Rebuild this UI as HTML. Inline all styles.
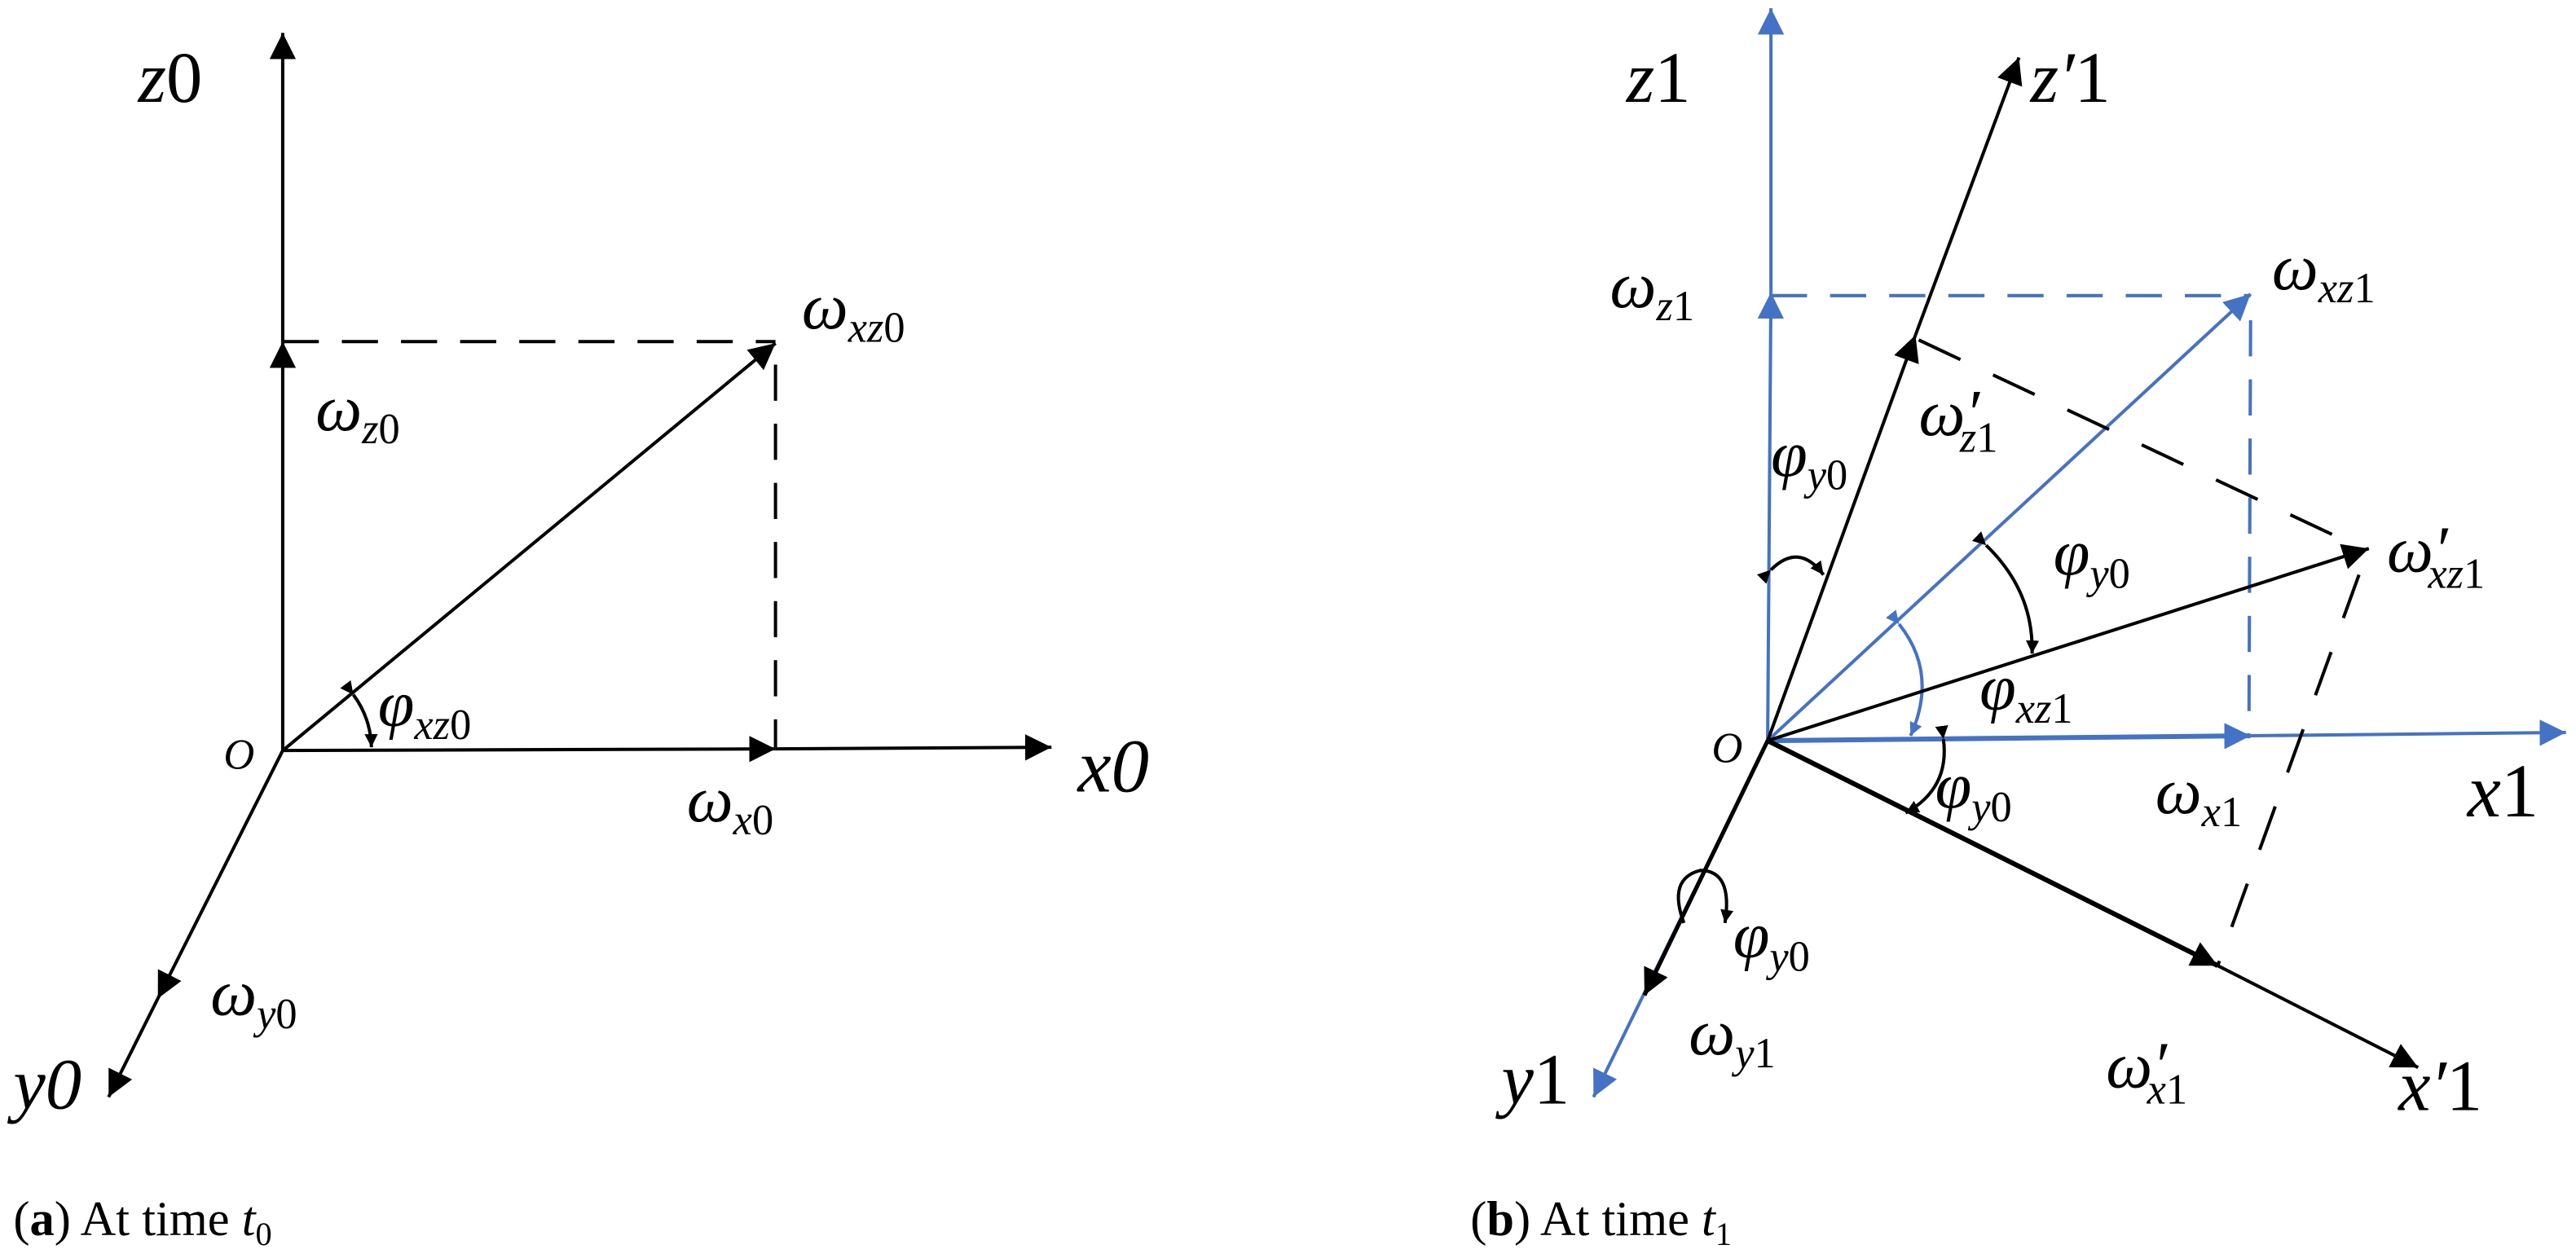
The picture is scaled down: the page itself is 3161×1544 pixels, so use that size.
<!DOCTYPE html>
<html><head><meta charset="utf-8"><style>
html,body{margin:0;padding:0;background:#fff}
svg{display:block}
text{font-family:"Liberation Serif",serif;font-style:italic;fill:#000}
.n{font-style:normal}
</style></head><body>
<svg width="3161" height="1544" viewBox="0 0 1568 766" xmlns="http://www.w3.org/2000/svg">
<defs>
<marker id="ak" viewBox="0 0 10 10" refX="10" refY="5" markerWidth="16" markerHeight="16" markerUnits="userSpaceOnUse" orient="auto"><path d="M0,0 L10,5 L0,10 z" fill="#000"/></marker>
<marker id="ab" viewBox="0 0 10 10" refX="10" refY="5" markerWidth="16" markerHeight="16" markerUnits="userSpaceOnUse" orient="auto"><path d="M0,0 L10,5 L0,10 z" fill="#4472c4"/></marker>
<marker id="sk" viewBox="0 0 10 10" refX="10" refY="5" markerWidth="8" markerHeight="8" markerUnits="userSpaceOnUse" orient="auto"><path d="M0,0 L10,5 L0,10 z" fill="#000"/></marker>
<marker id="sb" viewBox="0 0 10 10" refX="10" refY="5" markerWidth="8" markerHeight="8" markerUnits="userSpaceOnUse" orient="auto"><path d="M0,0 L10,5 L0,10 z" fill="#4472c4"/></marker>
</defs>
<!-- Panel a -->
<g stroke="#000" stroke-width="2" fill="none">
<line x1="172" y1="457" x2="172" y2="208" marker-end="url(#ak)"/>
<line x1="172" y1="208" x2="172" y2="20" marker-end="url(#ak)"/>
<line x1="172" y1="208" x2="472" y2="208" stroke-dasharray="22,14"/>
<line x1="472" y1="222" x2="472" y2="455" stroke-dasharray="22,14"/>
<line x1="172" y1="457" x2="472" y2="209" marker-end="url(#ak)"/>
<line x1="172" y1="457" x2="472" y2="456" marker-end="url(#ak)"/>
<line x1="472" y1="456" x2="640" y2="455" marker-end="url(#ak)"/>
<line x1="172" y1="457" x2="96" y2="608" marker-end="url(#ak)"/>
<line x1="96" y1="608" x2="66" y2="668" marker-end="url(#ak)"/>
<path d="M215,423 A55,55 0 0 1 226,455" marker-start="url(#sk)" marker-end="url(#sk)"/>
</g>
<text x="84" y="62" font-size="44">z<tspan class="n">0</tspan></text>
<text x="488" y="200" font-size="40">ω<tspan font-size="26" dy="8">xz</tspan><tspan class="n" font-size="26">0</tspan></text>
<text x="192" y="262" font-size="40">ω<tspan font-size="26" dy="8">z</tspan><tspan class="n" font-size="26">0</tspan></text>
<text x="230" y="442" font-size="40">φ<tspan font-size="26" dy="8">xz</tspan><tspan class="n" font-size="26">0</tspan></text>
<text x="136" y="468" font-size="26">O</text>
<text x="656" y="482" font-size="46">x0</text>
<text x="418" y="500" font-size="40">ω<tspan font-size="26" dy="8">x</tspan><tspan class="n" font-size="26">0</tspan></text>
<text x="128" y="618" font-size="40">ω<tspan font-size="26" dy="8">y</tspan><tspan class="n" font-size="26">0</tspan></text>
<text x="8" y="675" font-size="44">y0</text>
<text class="n" x="8" y="752" font-size="30">(<tspan font-weight="bold">a</tspan>) At time <tspan font-style="italic">t</tspan><tspan font-size="20" dy="6">0</tspan></text>

<!-- Panel b -->
<g stroke="#4472c4" stroke-width="2" fill="none">
<line x1="1076" y1="451" x2="1078" y2="178" marker-end="url(#ab)"/>
<line x1="1078" y1="178" x2="1078" y2="5" marker-end="url(#ab)"/>
<line x1="1078" y1="180" x2="1370" y2="180" stroke-dasharray="22,14"/>
<line x1="1370" y1="195" x2="1369" y2="447" stroke-dasharray="22,14"/>
<line x1="1076" y1="451" x2="1370" y2="179" marker-end="url(#ab)"/>
<line x1="1076" y1="451" x2="1370" y2="448" stroke-width="3" marker-end="url(#ab)"/>
<line x1="1370" y1="448" x2="1562" y2="446" marker-end="url(#ab)"/>
<line x1="1076" y1="451" x2="970" y2="668" marker-end="url(#ab)"/>
<path d="M1156,380 Q1180,410 1163,448" marker-start="url(#sb)" marker-end="url(#sb)"/>
</g>
<g stroke="#000" stroke-width="2" fill="none">
<line x1="1076" y1="451" x2="1166" y2="204" marker-end="url(#ak)"/>
<line x1="1166" y1="204" x2="1229" y2="35" marker-end="url(#ak)"/>
<line x1="1168" y1="207" x2="1440" y2="335" stroke-dasharray="28,22"/>
<line x1="1076" y1="451" x2="1442" y2="334" marker-end="url(#ak)"/>
<line x1="1436" y1="350" x2="1350" y2="588" stroke-dasharray="28,22"/>
<line x1="1076" y1="451" x2="1350" y2="588" stroke-width="3" marker-end="url(#ak)"/>
<line x1="1350" y1="588" x2="1472" y2="650" marker-end="url(#ak)"/>
<line x1="1076" y1="451" x2="1001" y2="606" stroke-width="2.5" marker-end="url(#ak)"/>
<path d="M1078,347 Q1095,330 1110,350" marker-start="url(#sk)" marker-end="url(#sk)"/>
<path d="M1209,332 Q1238,360 1237,398" marker-start="url(#sk)" marker-end="url(#sk)"/>
<path d="M1183,450 Q1187,480 1160,495" marker-start="url(#sk)" marker-end="url(#sk)"/>
<path d="M1025,562 Q1015,535 1035,530 Q1055,530 1050,562" marker-end="url(#sk)"/>
</g>
<text x="990" y="62" font-size="44">z<tspan class="n">1</tspan></text>
<text x="1236" y="62" font-size="44">z′<tspan class="n">1</tspan></text>
<text x="980" y="187" font-size="40">ω<tspan font-size="26" dy="8">z</tspan><tspan class="n" font-size="26">1</tspan></text>
<text x="1383" y="176" font-size="40">ω<tspan font-size="26" dy="8">xz</tspan><tspan class="n" font-size="26">1</tspan></text>
<text x="1168" y="265" font-size="40">ω′<tspan font-size="26" dy="10" dx="-12">z</tspan><tspan class="n" font-size="26">1</tspan></text>
<text x="1078" y="290" font-size="40">φ<tspan font-size="26" dy="8">y</tspan><tspan class="n" font-size="26">0</tspan></text>
<text x="1250" y="350" font-size="40">φ<tspan font-size="26" dy="8">y</tspan><tspan class="n" font-size="26">0</tspan></text>
<text x="1453" y="348" font-size="40">ω′<tspan font-size="26" dy="10" dx="-12">xz</tspan><tspan class="n" font-size="26">1</tspan></text>
<text x="1205" y="432" font-size="40">φ<tspan font-size="26" dy="8">xz</tspan><tspan class="n" font-size="26">1</tspan></text>
<text x="1042" y="464" font-size="26">O</text>
<text x="1178" y="492" font-size="40">φ<tspan font-size="26" dy="8">y</tspan><tspan class="n" font-size="26">0</tspan></text>
<text x="1312" y="495" font-size="40">ω<tspan font-size="26" dy="8">x</tspan><tspan class="n" font-size="26">1</tspan></text>
<text x="1502" y="497" font-size="46">x<tspan class="n">1</tspan></text>
<text x="1055" y="583" font-size="40">φ<tspan font-size="26" dy="8">y</tspan><tspan class="n" font-size="26">0</tspan></text>
<text x="1028" y="642" font-size="40">ω<tspan font-size="26" dy="8">y</tspan><tspan class="n" font-size="26">1</tspan></text>
<text x="1282" y="662" font-size="40">ω′<tspan font-size="26" dy="10" dx="-12">x</tspan><tspan class="n" font-size="26">1</tspan></text>
<text x="914" y="672" font-size="44">y<tspan class="n">1</tspan></text>
<text x="1460" y="676" font-size="44">x′<tspan class="n">1</tspan></text>
<text class="n" x="895" y="752" font-size="30">(<tspan font-weight="bold">b</tspan>) At time <tspan font-style="italic">t</tspan><tspan font-size="20" dy="6">1</tspan></text>
</svg>
</body></html>
